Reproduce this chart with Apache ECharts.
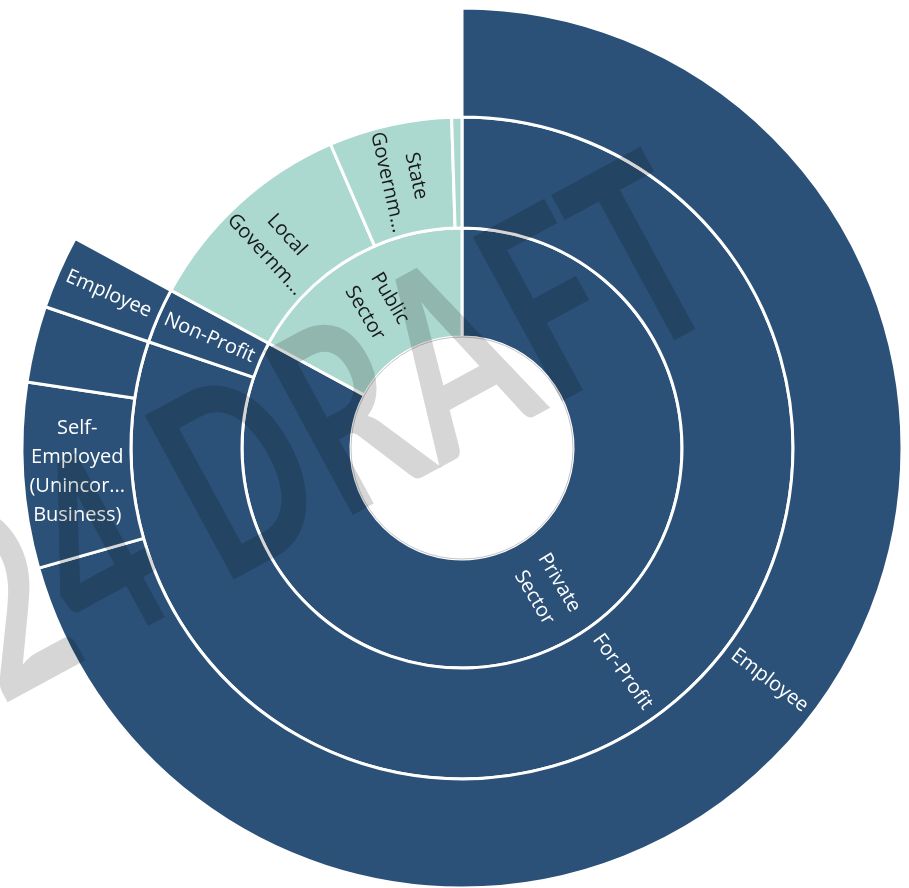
<!DOCTYPE html>
<html>
<head>
<meta charset="utf-8">
<script src="https://cdn.jsdelivr.net/npm/echarts@6/dist/echarts.min.js"></script>
<style>
  html, body { margin: 0; padding: 0; background: #fff; }
  #main { width: 909px; height: 888px; }
</style>
</head>
<body>
<div id="main"></div>
<script>
// shares of workers (%)
const sectors = ['Private Sector', 'Public Sector'];
const privateGroups = ['For-Profit', 'Non-Profit'];
const forProfitTypes = ['Employee', 'Self-Employed (Unincorporated Business)', 'Self-Employed (Incorporated Business)'];
const forProfitShares = [70.6, 6.8, 2.8];
const nonProfitTypes = ['Employee'];
const nonProfitShares = [2.7];
const publicGroups = ['Local Government', 'State Government', 'Federal Government'];
const publicShares = [10.6, 6.0, 0.5];

// text that fits in each slice (Excel truncates long names, hides the ones that don't fit)
const shownLabels = {
  'Private Sector': 'Private\nSector',
  'Public Sector': 'Public\nSector',
  'Local Government': 'Local\nGovernm...',
  'State Government': 'State\nGovernm...',
  'Self-Employed (Unincorporated Business)': 'Self-\nEmployed\n(Unincor...\nBusiness)'
};
const hiddenLabels = ['Self-Employed (Incorporated Business)', 'Federal Government'];

const BLUE = '#2b5178';
const TEAL = '#acd9cf';

function leaves(names, values, color, textColor) {
  return names.map(function (n, i) {
    const item = { name: n, value: values[i], itemStyle: { color: color }, label: { color: textColor } };
    if (n === 'Self-Employed (Unincorporated Business)') item.label.rotate = 0;
    if (hiddenLabels.indexOf(n) >= 0) item.label.show = false;
    return item;
  });
}

const data = [
  {
    name: sectors[0],
    itemStyle: { color: BLUE },
    label: { color: '#fff' },
    children: [
      { name: privateGroups[0], itemStyle: { color: BLUE }, label: { color: '#fff' },
        children: leaves(forProfitTypes, forProfitShares, BLUE, '#fff') },
      { name: privateGroups[1], itemStyle: { color: BLUE }, label: { color: '#fff' },
        children: leaves(nonProfitTypes, nonProfitShares, BLUE, '#fff') }
    ]
  },
  {
    name: sectors[1],
    itemStyle: { color: TEAL },
    label: { color: '#1a1a1a' },
    children: leaves(publicGroups, publicShares, TEAL, '#1a1a1a')
  }
];

const myChart = echarts.init(document.getElementById('main'));
const cx = 462, cy = 448;

let option = {
  animation: false,
  series: [
    {
      type: 'sunburst',
      center: [cx, cy],
      radius: [111, 440],
      sort: null,
      startAngle: 90,
      nodeClick: false,
      emphasis: { disabled: true },
      data: data,
      itemStyle: { borderColor: '#fff', borderWidth: 3 },
      label: {
        rotate: 'radial',
        fontFamily: 'Open Sans',
        fontSize: 20,
        lineHeight: 29,
        align: 'center',
        formatter: function (p) {
          return shownLabels[p.name] || p.name;
        }
      },
      levels: [
        {},
        { r0: 111, r: 220 },
        { r0: 220, r: 331 },
        { r0: 331, r: 440 }
      ]
    }
  ],
  graphic: [
    {
      type: 'circle',
      shape: { cx: cx, cy: cy, r: 111 },
      style: { fill: 'none', stroke: '#c4c4c4', lineWidth: 1 },
      z: 50
    },
    {
      // draft watermark laid over the chart
      type: 'text',
      x: 692,
      y: 236,
      rotation: 28.5 * Math.PI / 180,
      scaleY: 1.45,
      style: {
        text: '2024 DRAFT',
        fontFamily: 'Lato',
        fontWeight: 'bold',
        fontSize: 178,
        textAlign: 'right',
        textVerticalAlign: 'middle',
        fill: 'rgba(0,0,0,0.16)'
      },
      z: 100
    }
  ]
};
option && myChart.setOption(option);
</script>
</body>
</html>
